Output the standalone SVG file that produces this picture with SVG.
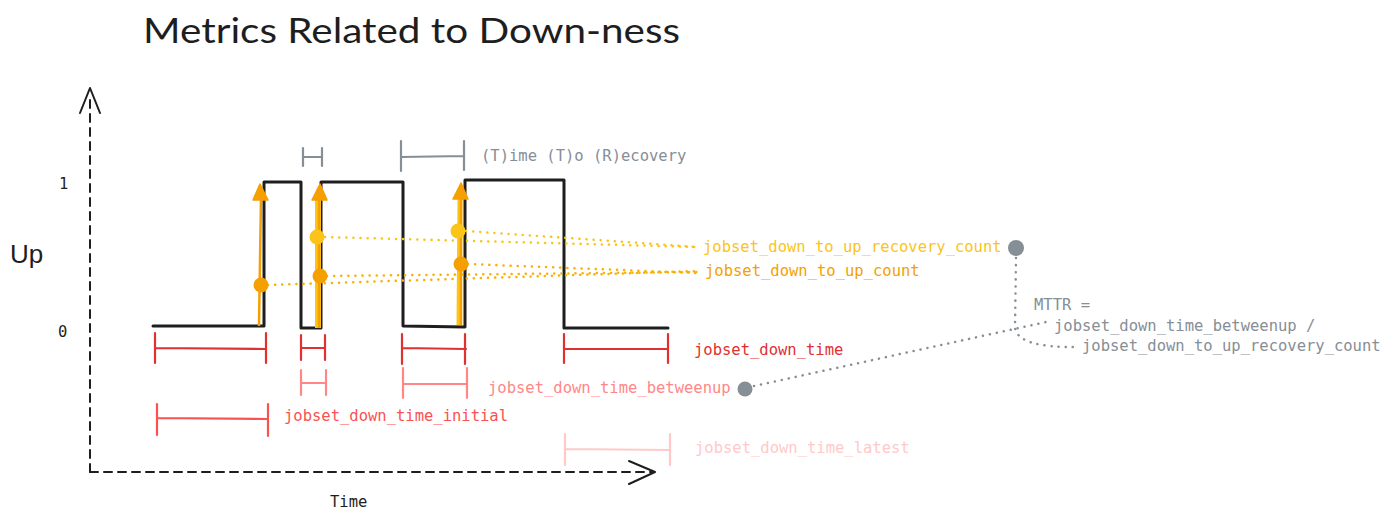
<svg xmlns="http://www.w3.org/2000/svg" width="1390" height="522" viewBox="0 0 1390 522">
<defs>
<style>
.mono{font-family:"DejaVu Sans Mono","Liberation Mono",monospace;font-size:15.5px}
.ax{stroke:#1e1e1e;stroke-width:2;fill:none;stroke-linecap:round;stroke-linejoin:round}
.dash{stroke-dasharray:8 6}
.sig{stroke:#1e1e1e;stroke-width:3;fill:none;stroke-linejoin:round;stroke-linecap:round}
.br{fill:none;stroke-width:2.2;stroke-linecap:round}
.dotl{fill:none;stroke-width:2.5;stroke-linecap:round;stroke-dasharray:0.1 7}
</style>
</defs>
<rect width="1390" height="522" fill="#ffffff"/>
<g id="title"><text x="143" y="43" font-family="Lato,'Liberation Sans',sans-serif" font-size="34" fill="#1e1e1e" textLength="537" lengthAdjust="spacingAndGlyphs">Metrics Related to Down-ness</text></g>
<g id="axes">
<path class="ax dash" d="M90 472 L90 94"/>
<path class="ax" d="M80 113 L90 88 L100 113"/>
<path class="ax dash" d="M90 472 L652 472"/>
<path class="ax" d="M629 461 L655 472 L629 484"/>
<text x="10" y="263" font-family="'Liberation Sans',sans-serif" font-size="26" fill="#1e1e1e">Up</text>
<text class="mono" x="59" y="189" fill="#1e1e1e">1</text>
<text class="mono" x="58" y="337" fill="#1e1e1e">0</text>
<text class="mono" x="330" y="507" fill="#1e1e1e">Time</text>
</g>
<g id="signal">
<path class="sig" d="M153 326 L264 326 L264 182 L301 182 L301 328 L321 328 L321 182 L403 182 L403 326 L465 327 L465 180 L564 180 L564 328 L668 328"/>
</g>
<g id="connectors">
<path class="dotl" stroke="#fab005" d="M268 285 L698 271"/>
<path class="dotl" stroke="#fab005" d="M327 276 L698 272"/>
<path class="dotl" stroke="#fab005" d="M468 264 L698 273"/>
<path class="dotl" stroke="#fcc419" d="M325 237 L698 247"/>
<path class="dotl" stroke="#fcc419" d="M466 231 L698 247"/>
<path class="dotl" stroke="#868e96" d="M754 386 L1046 322"/>
<path class="dotl" stroke="#868e96" d="M1016 258 L1015 328 Q1018 348 1078 347"/>
</g>
<g id="arrows">
<path d="M259 326 L261 198" stroke="#f59f00" stroke-width="2.5" fill="none"/>
<path d="M260 184 L253 200 L268 200 Z" fill="#f59f00" stroke="#f59f00" stroke-width="1.5" stroke-linejoin="round"/>
<path d="M318 328 L318 198" stroke="#fcc419" stroke-width="6" fill="none"/>
<path d="M319 328 L319 198" stroke="#f59f00" stroke-width="2.5" fill="none"/>
<path d="M320 184 L312 200 L327 200 Z" fill="#f59f00" stroke="#f59f00" stroke-width="1.5" stroke-linejoin="round"/>
<path d="M459 325 L460 198" stroke="#fcc419" stroke-width="5" fill="none"/>
<path d="M461 325 L461 198" stroke="#f59f00" stroke-width="2.5" fill="none"/>
<path d="M461 183 L453 199 L468 199 Z" fill="#f59f00" stroke="#f59f00" stroke-width="1.5" stroke-linejoin="round"/>
</g>
<g id="dots">
<circle cx="261" cy="285" r="7.5" fill="#f59f00"/>
<circle cx="317" cy="237" r="7.5" fill="#fcc419"/>
<circle cx="320" cy="276" r="7.5" fill="#f59f00"/>
<circle cx="458" cy="231" r="7.5" fill="#fcc419"/>
<circle cx="461" cy="264" r="7.5" fill="#f59f00"/>
<circle cx="1016" cy="248" r="8" fill="#868e96"/>
<circle cx="745" cy="389" r="7.5" fill="#868e96"/>
</g>
<g id="ttr">
<path class="br" stroke="#868e96" d="M303 148 L303 166 M303 157 L322 157 M322 148 L322 166"/>
<path class="br" stroke="#868e96" d="M401 141 L401 171 M401 157 L464 156 M464 141 L464 170"/>
<text class="mono" x="481" y="161" fill="#868e96">(T)ime (T)o (R)ecovery</text>
</g>
<g id="down_time">
<path class="br" stroke="#e03131" d="M155 333 L155 363 M155 348 L266 349 M266 333 L266 363"/>
<path class="br" stroke="#e03131" d="M301 335 L301 360 M301 348 L325 348 M325 335 L325 360"/>
<path class="br" stroke="#e03131" d="M402 334 L402 364 M402 348 L466 349 M465 334 L465 364"/>
<path class="br" stroke="#e03131" d="M564 334 L564 363 M564 349 L668 349 M668 334 L668 363"/>
<text class="mono" x="694" y="355" fill="#e03131">jobset_down_time</text>
</g>
<g id="down_time_betweenup">
<path class="br" stroke="#ff8787" d="M301 370 L301 395 M301 383 L325 383 M326 370 L326 395"/>
<path class="br" stroke="#ff8787" d="M403 368 L403 398 M403 384 L466 384 M467 368 L467 398"/>
<text class="mono" x="488" y="393" fill="#ff8787">jobset_down_time_betweenup</text>
</g>
<g id="down_time_initial">
<path class="br" stroke="#fa5252" d="M157 404 L157 435 M157 418 L268 419 M268 404 L268 436"/>
<text class="mono" x="284" y="421" fill="#fa5252">jobset_down_time_initial</text>
</g>
<g id="down_time_latest">
<path class="br" stroke="#ffc9c9" d="M565 434 L565 465 M565 449 L670 450 M670 434 L670 465"/>
<text class="mono" x="695" y="453" fill="#ffc9c9">jobset_down_time_latest</text>
</g>
<g id="count_labels">
<text class="mono" x="703" y="252" fill="#fcc419">jobset_down_to_up_recovery_count</text>
<text class="mono" x="705" y="276" fill="#f59f00">jobset_down_to_up_count</text>
</g>
<g id="mttr">
<text class="mono" x="1034" y="310" fill="#868e96">MTTR =</text>
<text class="mono" x="1054" y="331" fill="#868e96">jobset_down_time_betweenup /</text>
<text class="mono" x="1082" y="351" fill="#868e96">jobset_down_to_up_recovery_count</text>
</g>
</svg>
